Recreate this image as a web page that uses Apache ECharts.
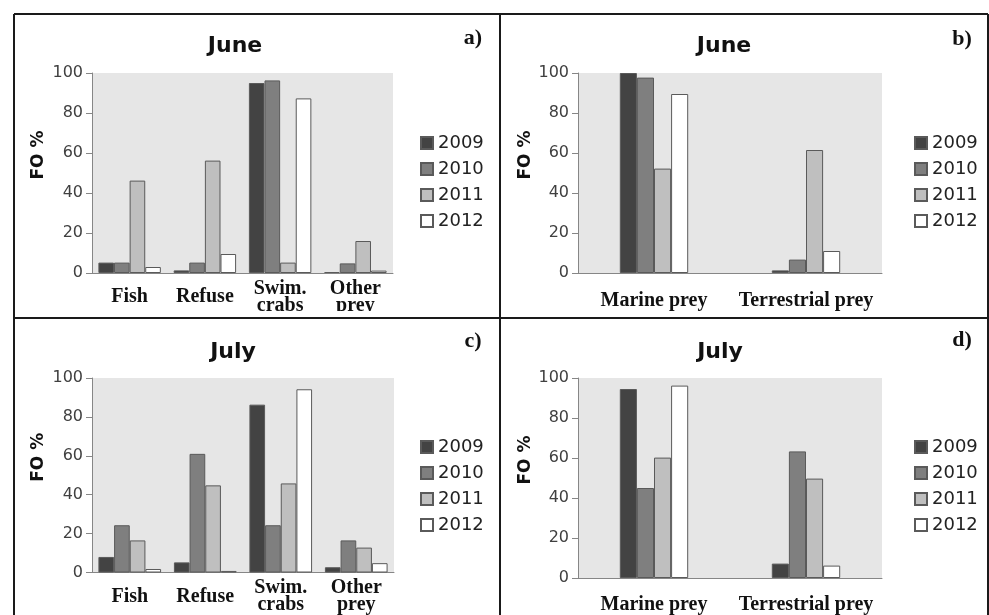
<!DOCTYPE html>
<html>
<head>
<meta charset="utf-8">
<title>FO % by prey type</title>
<script src="https://cdn.jsdelivr.net/npm/echarts@6/dist/echarts.min.js"></script>
<style>
  html, body { margin: 0; padding: 0; background: #fff; }
  #chart { width: 989px; height: 615px; }
</style>
</head>
<body>
<div id="chart"></div>
<script>
// categories
const preyTypes = ['Fish', 'Refuse', 'Swim.\ncrabs', 'Other\nprey'];
const preyOrigin = ['Marine prey', 'Terrestrial prey'];
const years = ['2009', '2010', '2011', '2012'];
const yTicks = [0, 20, 40, 60, 80, 100];

// FO % values, one row per year (2009..2012)
const juneType = [
  [5.2, 1.3, 95.0, 0.5],
  [5.2, 5.2, 96.3, 4.8],
  [46.2, 56.2, 5.2, 16.0],
  [3.0, 9.5, 87.3, 1.2],
];
const juneOrigin = [
  [100, 1.3],
  [97.7, 6.7],
  [52.2, 61.5],
  [89.5, 11.0],
];
const julyType = [
  [8.0, 5.2, 86.3, 2.7],
  [24.3, 61.0, 24.3, 16.5],
  [16.5, 44.8, 45.8, 12.8],
  [1.8, 0.8, 94.2, 4.8],
];
const julyOrigin = [
  [94.5, 7.2],
  [45.0, 63.3],
  [60.2, 49.7],
  [96.2, 6.2],
];

const yearColors = ['#434343', '#7f7f7f', '#bfbfbf', '#ffffff'];

// panel layout (a, b, c, d)
const panels = [
  { title: 'June', tag: 'a)', cats: preyTypes, values: juneType, grid: [92, 73, 301], gap: '17%', labelGap: 24, nameGap: 45, legend: [415, 129], titleX: 235, titleY: 46, tagX: 473, tagY: 38 },
  { title: 'June', tag: 'b)', cats: preyOrigin, values: juneOrigin, grid: [578, 73, 304], gap: '55%', labelGap: 28, nameGap: 44, legend: [909, 129], titleX: 724, titleY: 46, tagX: 962, tagY: 39 },
  { title: 'July', tag: 'c)', cats: preyTypes, values: julyType, grid: [92, 378, 302], gap: '17%', labelGap: 24, nameGap: 45, legend: [415, 433], titleX: 233, titleY: 352, tagX: 473, tagY: 341 },
  { title: 'July', tag: 'd)', cats: preyOrigin, values: julyOrigin, grid: [578, 378, 304], gap: '55%', labelGap: 27, nameGap: 44, legend: [909, 433], titleX: 720, titleY: 352, tagX: 962, tagY: 340 },
];

let chart = echarts.init(document.getElementById('chart'));

let grids = [];
let xAxes = [];
let yAxes = [];
let legends = [];
let series = [];
let graphics = [];

panels.forEach((p, i) => {
  grids.push({
    left: p.grid[0], top: p.grid[1], width: p.grid[2], height: 200,
    show: true, backgroundColor: '#e6e6e6', borderWidth: 0,
  });

  xAxes.push({
    type: 'category', gridIndex: i, data: p.cats,
    axisLine: { lineStyle: { color: '#868686', width: 1 } },
    axisTick: { show: false },
    axisLabel: {
      interval: 0, margin: p.labelGap, verticalAlign: 'middle',
      fontFamily: 'Liberation Serif', fontWeight: 'bold', fontSize: 20,
      lineHeight: 17, color: '#111',
    },
  });

  // the name sits above the middle of the axis, as in the original
  yAxes.push({
    type: 'value', gridIndex: i,
    min: yTicks[0], max: yTicks[yTicks.length - 1], interval: yTicks[1] - yTicks[0],
    name: 'FO %', nameLocation: 'middle', nameGap: p.nameGap,
    nameTextStyle: { fontFamily: 'DejaVu Sans', fontWeight: 'bold', fontSize: 17, color: '#111', padding: [0, 0, 0, 36] },
    axisLine: { show: true, lineStyle: { color: '#868686' } },
    axisTick: { show: true, length: 6, lineStyle: { color: '#868686' } },
    axisLabel: { margin: 9, fontFamily: 'DejaVu Sans', fontSize: 16, color: '#404040' },
    splitLine: { show: false },
  });

  legends.push({
    data: years, orient: 'vertical', left: p.legend[0], top: p.legend[1],
    icon: 'rect', itemWidth: 12, itemHeight: 12, itemGap: 8, selectedMode: false,
    textStyle: { fontFamily: 'DejaVu Sans', fontSize: 18, lineHeight: 18, color: '#222' },
  });

  years.forEach((y, j) => {
    series.push({
      type: 'bar', name: y, xAxisIndex: i, yAxisIndex: i,
      data: p.values[j],
      barGap: '0%', barCategoryGap: p.gap,
      itemStyle: { color: yearColors[j], borderColor: '#5a5a5a', borderWidth: 1 },
    });
  });

  graphics.push({
    type: 'text', x: p.titleX, y: p.titleY, z: 10,
    style: { text: p.title, fontFamily: 'DejaVu Sans', fontWeight: 'bold', fontSize: 22, fill: '#111', align: 'center', verticalAlign: 'middle' },
  });
  graphics.push({
    type: 'text', x: p.tagX, y: p.tagY, z: 10,
    style: { text: p.tag, fontFamily: 'Liberation Serif', fontWeight: 'bold', fontSize: 22, fill: '#111', align: 'center', verticalAlign: 'middle' },
  });
});

// frame of the four panels, plus clipping strip under the upper labels
graphics.push({ type: 'rect', shape: { x: 14, y: 311, width: 974, height: 6 }, style: { fill: '#fff' }, z: 20 });
[
  [14, 14, 988, 14],
  [14, 14, 14, 615],
  [988, 14, 988, 615],
  [500, 14, 500, 615],
  [14, 318, 988, 318],
].forEach(l => {
  graphics.push({
    type: 'line', z: 30,
    shape: { x1: l[0], y1: l[1], x2: l[2], y2: l[3] },
    style: { stroke: '#1a1a1a', lineWidth: 2 },
  });
});

chart.setOption({
  animation: false,
  backgroundColor: '#fff',
  grid: grids,
  xAxis: xAxes,
  yAxis: yAxes,
  legend: legends,
  series: series,
  graphic: graphics,
});
</script>
</body>
</html>
